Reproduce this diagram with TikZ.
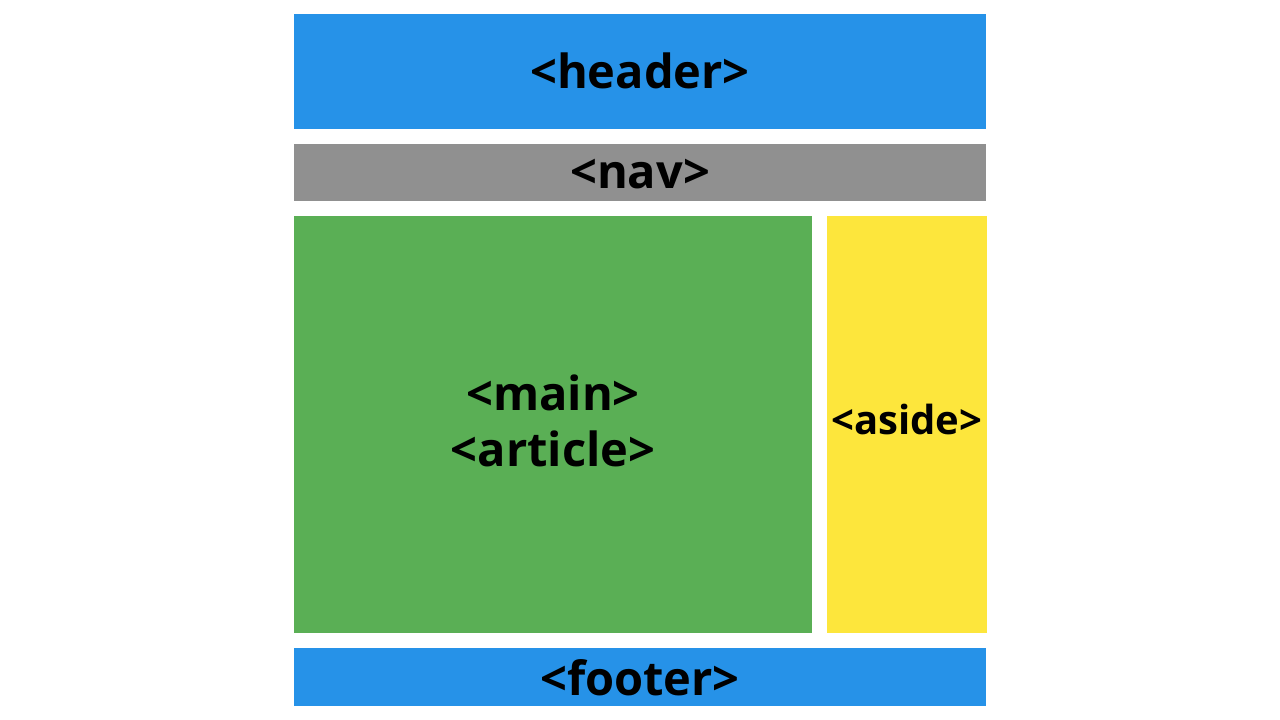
\documentclass[tikz,border=0pt]{standalone}
\usepackage{fontspec}
\setmainfont{Open Sans}
\definecolor{hblue}{HTML}{2692E8}
\definecolor{ngray}{HTML}{909090}
\definecolor{mgreen}{HTML}{5AAF55}
\definecolor{ayellow}{HTML}{FDE63C}
\tikzset{
  block/.style={rectangle, inner sep=0pt, draw=none},
  lbl/.style={inner sep=0pt, anchor=base, text=black},
}
\newcommand{\lblfont}[1]{\bfseries\fontsize{#1}{#1}\selectfont}
\begin{document}
\begin{tikzpicture}[x=1pt,y=-1pt]
\useasboundingbox (0,0) rectangle (1280,720);
\fill[white] (0,0) rectangle (1280,720);
\node[block, fill=hblue, minimum width=692pt, minimum height=115pt] (header) at (640,71.5) {};
\node[block, fill=ngray, minimum width=692pt, minimum height=57pt] (nav) at (640,172.5) {};
\node[block, fill=mgreen, minimum width=518pt, minimum height=417pt] (main) at (553,424.5) {};
\node[block, fill=ayellow, minimum width=160pt, minimum height=417pt] (aside) at (907,424.5) {};
\node[block, fill=hblue, minimum width=692pt, minimum height=58pt] (footer) at (640,677) {};
\node[lbl, font=\lblfont{47}] (headertxt) at (640,88) {<header>};
\node[lbl, font=\lblfont{47}] (navtxt) at (640,188) {<nav>};
\node[lbl, font=\lblfont{47}] (maintxt) at (553,410) {<main>};
\node[lbl, font=\lblfont{47}] (articletxt) at (553,466) {<article>};
\node[lbl, font=\lblfont{40}] (asidetxt) at (907,434) {<aside>};
\node[lbl, font=\lblfont{47}] (footertxt) at (640,695) {<footer>};
\end{tikzpicture}
\end{document}
